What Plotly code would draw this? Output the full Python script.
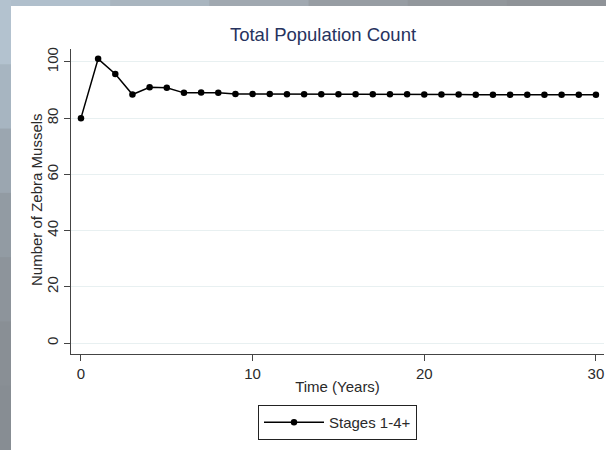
import plotly.graph_objects as go

years = list(range(0, 31))
population = [80.0, 101.1, 95.7, 88.4, 91.0, 90.8, 89.0, 89.1, 89.0, 88.6, 88.6,
              88.6, 88.5, 88.5, 88.5, 88.5, 88.5, 88.5, 88.5, 88.5, 88.4,
              88.4, 88.4, 88.3, 88.3, 88.3, 88.3, 88.3, 88.3, 88.3, 88.3]
series_name = "Stages 1-4+"
y_ticks = [0, 20, 40, 60, 80, 100]
x_ticks = [0, 10, 20, 30]

W, H = 606, 450
L, R, T, B = 71, 2, 49, 96
PW, PH = W - L - R, H - T - B


def px(x):
    return (x - L) / PW


def py(y):
    return (H - B - y) / PH


fig = go.Figure()
fig.add_trace(go.Scatter(
    x=years, y=population, mode="lines+markers", name=series_name,
    line=dict(color="black", width=1.5),
    marker=dict(color="black", size=6.5),
))

shapes = []
# left gradient band
left_cols = ["#b3c2cf", "#a7b5c1", "#9ba6b0", "#929ba3", "#8d949b", "#898f95", "#878d93"]
n = len(left_cols)
for i, c in enumerate(left_cols):
    shapes.append(dict(type="rect", xref="paper", yref="paper", layer="below",
                       x0=px(0), x1=px(11), y0=py(i * H / n), y1=py((i + 1) * H / n + 1),
                       fillcolor=c, line=dict(width=0)))
# top band
top_cols = ["#b0bfcc", "#a9b5bf", "#a0a8b0", "#979da3", "#92979c", "#8f9398"]
n = len(top_cols)
for i, c in enumerate(top_cols):
    shapes.append(dict(type="rect", xref="paper", yref="paper", layer="below",
                       x0=px(11 + i * (W - 11) / n), x1=px(11 + (i + 1) * (W - 11) / n + 1),
                       y0=py(0), y1=py(6), fillcolor=c, line=dict(width=0)))

fig.update_layout(
    width=W, height=H, autosize=False,
    margin=dict(l=L, r=R, t=T, b=B),
    paper_bgcolor="white", plot_bgcolor="white",
    font=dict(family="Liberation Sans, Arial, sans-serif", color="#2a2a2a", size=15),
    title=dict(text="Total Population Count", xref="container", x=323 / W, xanchor="center",
               y=1 - 35 / H, yanchor="middle",
               font=dict(size=18.5, color="#27335e")),
    shapes=shapes,
    annotations=[dict(text="Number of Zebra Mussels", xref="paper", yref="paper",
                      x=px(37), y=py(200), xanchor="center", yanchor="middle",
                      textangle=-90, showarrow=False,
                      font=dict(size=15, color="#2a2a2a"))],
    showlegend=True,
    legend=dict(orientation="h", x=0.5, xanchor="center", y=py(405), yanchor="top",
                bordercolor="#222222", borderwidth=1, bgcolor="white",
                font=dict(size=15, color="#2a2a2a"),
                itemwidth=60),
    xaxis=dict(range=[-0.58, 30.47], tickvals=x_ticks, ticks="outside", ticklen=6,
               tickcolor="#444444", showline=True, linecolor="#444444", linewidth=1.3,
               showgrid=False, zeroline=False,
               title=dict(text="Time (Years)", standoff=0, font=dict(size=15)),
               tickfont=dict(size=15)),
    yaxis=dict(range=[-3.9, 104.6], tickvals=y_ticks, ticks="outside", ticklen=6,
               tickcolor="#444444", showline=True, linecolor="#444444", linewidth=1.3,
               showgrid=True, gridcolor="#e8f0f1", gridwidth=1, zeroline=False,
               tickangle=-90,
               tickfont=dict(size=15)),
)

fig.write_html("out.html")
